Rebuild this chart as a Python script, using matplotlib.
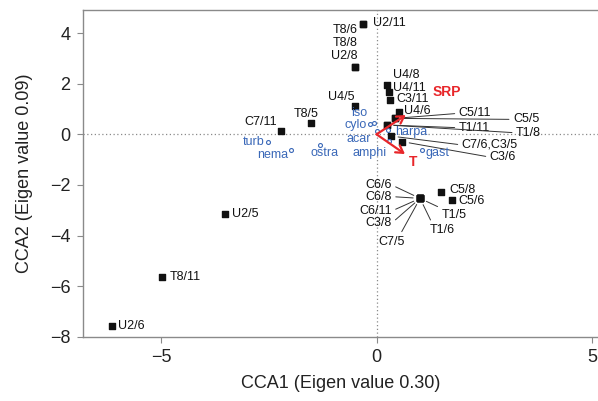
import matplotlib
matplotlib.use("Agg")
import matplotlib.pyplot as plt

plt.rcParams['font.family'] = ['Liberation Sans', 'DejaVu Sans']

# sample scores (squares)
site_names = ['U2/11', 'T8/6', 'U2/8', 'T8/8', 'U4/8', 'U4/11', 'C3/11', 'U4/5',
              'U4/6', 'C5/11', 'C5/5', 'T1/11', 'T1/8', 'C7/6,C3/5', 'C3/6',
              'T8/5', 'C7/11', 'C6/6', 'C6/8', 'C6/11', 'C3/8', 'C7/5', 'T1/5',
              'T1/6', 'C5/8', 'C5/6', 'U2/5', 'T8/11', 'U2/6']
site_x = [-0.31, -0.31, -0.50, -0.50, 0.24, 0.29, 0.31, -0.50,
          0.51, 0.43, 0.43, 0.24, 0.24, 0.34, 0.60,
          -1.52, -2.22, 1.01, 1.01, 1.01, 1.01, 1.01, 1.01,
          1.01, 1.50, 1.74, -3.52, -4.98, -6.14]
site_y = [4.34, 4.34, 2.67, 2.67, 1.94, 1.66, 1.35, 1.12,
          0.87, 0.63, 0.63, 0.37, 0.37, -0.07, -0.29,
          0.43, 0.14, -2.53, -2.53, -2.53, -2.53, -2.53, -2.53,
          -2.53, -2.27, -2.59, -3.16, -5.63, -7.57]

# species scores (open circles)
species = ['iso', 'cylo', 'acar', 'harpa', 'amphi', 'gast', 'turb', 'nema', 'ostra']
species_x = [-0.07, -0.15, 0.01, 0.26, 0.29, 1.06, -2.51, -1.99, -1.31]
species_y = [0.46, 0.39, 0.13, 0.17, -0.26, -0.62, -0.29, -0.62, -0.41]

# environmental vectors
env_names = ['SRP', 'T']
env_x = [0.68, 0.66]
env_y = [0.76, -0.78]

# label placement: offset in pixels (dx, dy, ha) for labels next to the point
site_offsets = {
    'U2/11': (10, 1, 'left'), 'T8/6': (-5, -6, 'right'),
    'U2/8': (3, 11, 'right'), 'T8/8': (3, 24, 'right'),
    'U4/8': (6, 10, 'left'), 'U4/11': (4, 4, 'left'), 'C3/11': (6, 1, 'left'),
    'U4/5': (0, 9, 'right'), 'U4/6': (5, 1, 'left'),
    'T8/5': (-5, 9, 'center'), 'C7/11': (-4, 9, 'right'),
    'C5/8': (8, 2, 'left'), 'C5/6': (7, -1, 'left'),
    'U2/5': (7, 0, 'left'), 'T8/11': (8, 0, 'left'), 'U2/6': (6, 0, 'left'),
}
# labels with leader lines: text position in data units, ha, relpos of line start
site_leaders = {
    'C5/11': (1.91, 0.83, 'left', (0, 0.5)),
    'C5/5': (3.17, 0.59, 'left', (0, 0.5)),
    'T1/11': (1.91, 0.26, 'left', (0, 0.5)),
    'T1/8': (3.24, 0.06, 'left', (0, 0.5)),
    'C7/6,C3/5': (1.98, -0.42, 'left', (0, 0.5)),
    'C3/6': (2.63, -0.90, 'left', (0, 0.5)),
    'C6/6': (0.35, -2.00, 'right', (1, 0.5)),
    'C6/8': (0.35, -2.46, 'right', (1, 0.5)),
    'C6/11': (0.35, -3.03, 'right', (1, 0.5)),
    'C3/8': (0.35, -3.51, 'right', (1, 0.5)),
    'C7/5': (0.35, -4.24, 'center', (0.8, 1)),
    'T1/5': (1.51, -3.19, 'left', (0.05, 1)),
    'T1/6': (1.24, -3.78, 'left', (0.1, 1)),
}
species_offsets = {
    'iso': (-6, 10, 'right'), 'cylo': (-3, -1, 'right'), 'acar': (-6, -8, 'right'),
    'harpa': (7, -2, 'left'), 'amphi': (-2, -12, 'right'), 'gast': (3, -3, 'left'),
    'turb': (-4, 0, 'right'), 'nema': (-3, -5, 'right'), 'ostra': (4, -8, 'center'),
}
env_label_pos = {'SRP': (1.64, 1.66), 'T': (0.84, -1.08)}

blue = '#3a68b8'
red = '#e8262a'
grey = '#8a8a8a'

fig = plt.figure(figsize=(5.98, 4.01), dpi=100)
ax = fig.add_axes([0.139, 0.16, 0.861, 0.815])

ax.axhline(0, color=grey, ls=(0, (1, 2)), lw=0.9, zorder=0)
ax.axvline(0, color=grey, ls=(0, (1, 2)), lw=0.9, zorder=0)

ax.scatter(site_x, site_y, marker='s', s=22, color='#111111', zorder=3)
ax.scatter(species_x, species_y, marker='o', s=8, facecolor='white',
           edgecolor=blue, linewidth=0.8, zorder=4)

for name, x, y in zip(site_names, site_x, site_y):
    if name in site_leaders:
        tx, ty, ha, rp = site_leaders[name]
        ax.annotate(name, xy=(x, y), xytext=(tx, ty), ha=ha, va='center',
                    fontsize=9, color='#111111',
                    arrowprops=dict(arrowstyle='-', color='#333333', lw=0.7,
                                    shrinkA=1, shrinkB=5, relpos=rp))
    else:
        dx, dy, ha = site_offsets[name]
        ax.annotate(name, xy=(x, y), xytext=(dx, dy), textcoords='offset pixels',
                    ha=ha, va='center', fontsize=9, color='#111111')

for name, x, y in zip(species, species_x, species_y):
    dx, dy, ha = species_offsets[name]
    ax.annotate(name, xy=(x, y), xytext=(dx, dy), textcoords='offset pixels',
                ha=ha, va='center', fontsize=9, color=blue, zorder=5)

for name, x, y in zip(env_names, env_x, env_y):
    ax.annotate('', xy=(x, y), xytext=(0, 0),
                arrowprops=dict(arrowstyle='->,head_length=0.5,head_width=0.3',
                                color=red, lw=1.6, shrinkA=0, shrinkB=0), zorder=6)
    lx, ly = env_label_pos[name]
    ax.text(lx, ly, name, color=red, fontsize=10, fontweight='bold',
            ha='center', va='center')

ax.set_xlim(-6.81, 5.14)
ax.set_ylim(-8, 4.91)
ax.set_xticks([-5, 0, 5])
ax.set_xticklabels(['\u22125', '0', '5'])
ax.set_yticks([-8, -6, -4, -2, 0, 2, 4])
ax.set_yticklabels(['\u22128', '\u22126', '\u22124', '\u22122', '0', '2', '4'])
ax.tick_params(direction='out', length=4, color=grey, labelsize=13,
               labelcolor='#222222', pad=5)
for side in ['left', 'bottom', 'top']:
    ax.spines[side].set_color(grey)
    ax.spines[side].set_linewidth(1.0)
ax.spines['right'].set_visible(False)

ax.set_xlabel('CCA1 (Eigen value 0.30)', fontsize=13, color='#222222', labelpad=6)
ax.set_ylabel('CCA2 (Eigen value 0.09)', fontsize=13, color='#222222', labelpad=12)

fig.savefig('out.png', dpi=100)
